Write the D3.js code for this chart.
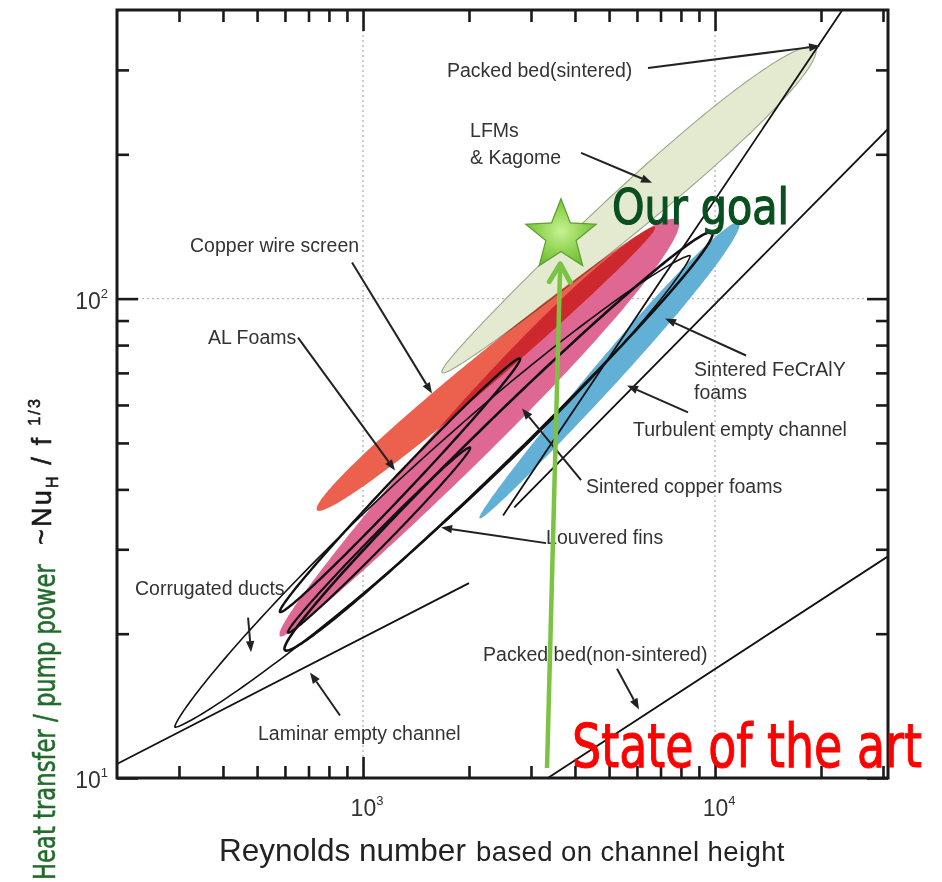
<!DOCTYPE html>
<html>
<head>
<meta charset="utf-8">
<script src="https://cdn.jsdelivr.net/npm/d3@7"></script>
<style>
  html, body { margin: 0; padding: 0; background: #fff; }
  svg { display: block; }
</style>
</head>
<body>
<svg id="chart" width="942" height="882"></svg>
<script>
// ---- axes -------------------------------------------------------------
const reDomain = [200, 31000];
const nuDomain = [10, 400];
const reMajorTicks = [1e3, 1e4];
const nuMajorTicks = [1e1, 1e2];
const reMinorTicks = [300, 400, 500, 600, 700, 800, 900, 2000, 3000, 4000, 5000, 6000, 7000, 8000, 9000, 20000, 30000];
const nuMinorTicks = [20, 30, 40, 50, 60, 70, 80, 90, 200, 300];
const reGrid = [1e3, 1e4];
const nuGrid = [1e2];

// ---- filled bands: lower-left end, upper-right end, half thickness (decades) ----
const bandNames = ["LFMs & Kagome", "Copper wire screen", "Sintered copper foams", "Sintered FeCrAlY foams"];
const bandRe1 = [1677, 740, 581, 2143];
const bandNu1 = [70.1, 36.2, 19.76, 34.8];
const bandRe2 = [19240, 6753, 7851, 11700];
const bandNu2 = [333.4, 141, 145.4, 144];
const bandSpread = [0.046, 0.0323, 0.056, 0.028];

// ---- outlined envelopes ----
const envelopeNames = ["Corrugated ducts", "Louvered fins", "AL Foams A", "AL Foams B"];
const envelopeRe1 = [292, 600, 581, 612];
const envelopeNu1 = [12.77, 18.48, 22.2, 20.1];
const envelopeRe2 = [8492, 9806, 2792, 2014];
const envelopeNu2 = [122.9, 137.3, 75, 48.9];
const envelopeSpread = [0.0646, 0.0427, 0.019, 0.0146];

// ---- straight correlations ----
const lineNames = ["Laminar empty channel", "Turbulent empty channel", "Packed bed (sintered)", "Packed bed (non-sintered)"];
const lineRe1 = [200, 2690, 2500, 3350];
const lineNu1 = [10.7, 36.7, 35.3, 10];
const lineRe2 = [2000, 31000, 23000, 31000];
const lineNu2 = [25.5, 226, 400, 29];

// ---- annotation text (anchored at baseline start) ----
const labelText = ["Packed bed(sintered)", "LFMs", "& Kagome", "Copper wire screen", "AL Foams",
  "Sintered FeCrAlY", "foams", "Turbulent empty channel", "Sintered copper foams", "Louvered fins",
  "Corrugated ducts", "Packed bed(non-sintered)", "Laminar empty channel"];
const labelRe = [1732, 2014, 2014, 322.5, 362.9, 8714, 8714, 5848, 4300, 3311, 225, 2193, 503];
const labelNu = [290, 217.6, 191, 125.3, 80.6, 68.8, 61.6, 51.6, 39.3, 30.7, 24.06, 17.5, 12.0];

// ---- leader arrows (tail -> head) ----
const arrowRe1 = [6451, 4163, 930.5, 653.6, 12250, 8381, 4163, 3311, 471.4, 860.2, 5267];
const arrowNu1 = [302.9, 201.4, 118.9, 82.9, 76.1, 57.9, 41.8, 30.9, 21.6, 13.5, 16.9];
const arrowRe2 = [19880, 6622, 1570, 1233, 7211, 5623, 2829, 1666, 480.7, 707, 6081];
const arrowNu2 = [336.5, 174.4, 63.4, 43.8, 90.9, 65.9, 59.0, 33.3, 18.3, 16.6, 13.9];

// ---- target and current state ----
const goalRe = [3650], goalNu = [135.3];
const stateRe = [3332], stateNu = [10.49];
const goalTextRe = [5098], goalTextNu = [143.3];
const stateTextRe = [3925], stateTextNu = [10.54];

// ---- styles (bias > 0 fattens the upper-left side) ----
const bandStyle = {
  "LFMs & Kagome":          { fill: "#e3ead0", stroke: "#98a68a", skew: 0.35,  bias: 0,    shape: 0.5 },
  "Copper wire screen":     { fill: "#ec614e", stroke: "none",    skew: -0.2,  bias: 0,    shape: 0.5 },
  "Sintered copper foams":  { fill: "#de6893", stroke: "none",    skew: 0.3,   bias: 0.13, shape: 0.5 },
  "Sintered FeCrAlY foams": { fill: "#63b0d6", stroke: "none",    skew: 0.3,   bias: 0,    shape: 0.5 }
};
const envelopeStyle = {
  "Corrugated ducts": { width: 1.6, skew: 0, bias: 0, shape: 0.7 },
  "Louvered fins":    { width: 2.6, skew: 0, bias: 0, shape: 0.5 },
  "AL Foams A":       { width: 2.4, skew: 0, bias: 0, shape: 0.5 },
  "AL Foams B":       { width: 2.2, skew: 0, bias: 0, shape: 0.5 }
};

const svg = d3.select("#chart");
const plot = { left: 117, right: 888, top: 10, bottom: 778 };

const x = d3.scaleLog().domain(reDomain).range([plot.left, plot.right]);
const y = d3.scaleLog().domain(nuDomain).range([plot.bottom, plot.top]);
const decadePx = y(10) - y(100);

const defs = svg.append("defs");
defs.append("clipPath").attr("id", "plotClip")
  .append("rect")
  .attr("x", plot.left).attr("y", plot.top)
  .attr("width", plot.right - plot.left).attr("height", plot.bottom - plot.top);

const grad = defs.append("radialGradient").attr("id", "starFill")
  .attr("cx", "50%").attr("cy", "48%").attr("r", "55%");
grad.append("stop").attr("offset", "0%").attr("stop-color", "#c8f294");
grad.append("stop").attr("offset", "55%").attr("stop-color", "#93d556");
grad.append("stop").attr("offset", "100%").attr("stop-color", "#6dbd33");

// dotted grid at the decades
const grid = svg.append("g").attr("stroke", "#b9b9b9").attr("stroke-width", 1.4).attr("stroke-dasharray", "2,3");
grid.selectAll("line.gx").data(reGrid).join("line")
  .attr("x1", d => x(d)).attr("x2", d => x(d)).attr("y1", plot.top).attr("y2", plot.bottom);
grid.selectAll("line.gy").data(nuGrid).join("line")
  .attr("y1", d => y(d)).attr("y2", d => y(d)).attr("x1", plot.left).attr("x2", plot.right);

// a lens / ellipse between two ends, thickness profile b*(1-u^2)^shape*(1+skew*u), sides weighted by bias
function envelopePath(re1, nu1, re2, nu2, spread, st) {
  const p1 = [x(re1), y(nu1)], p2 = [x(re2), y(nu2)];
  const dx = p2[0] - p1[0], dy = p2[1] - p1[1];
  const L = Math.hypot(dx, dy);
  const ux = dx / L, uy = dy / L, nx = -uy, ny = ux;
  const cx = (p1[0] + p2[0]) / 2, cy = (p1[1] + p2[1]) / 2;
  const b = spread * decadePx;
  const pts = [];
  const n = 240;
  for (let i = 0; i < n; i++) {
    const th = i / n * 2 * Math.PI;
    const u = -Math.cos(th);
    const side = Math.sin(th) >= 0 ? 1 : -1;
    const w = b * Math.pow(Math.max(0, 1 - u * u), st.shape) * (1 + st.skew * u) * (1 - st.bias * side);
    pts.push([cx + u * L / 2 * ux + side * w * nx, cy + u * L / 2 * uy + side * w * ny]);
  }
  return d3.line().curve(d3.curveLinearClosed)(pts);
}

const content = svg.append("g").attr("clip-path", "url(#plotClip)");

// filled bands (overlaps darken)
content.append("g").selectAll("path").data(bandNames).join("path")
  .attr("d", (d, i) => envelopePath(bandRe1[i], bandNu1[i], bandRe2[i], bandNu2[i], bandSpread[i], bandStyle[d]))
  .attr("fill", d => bandStyle[d].fill)
  .attr("stroke", d => bandStyle[d].stroke)
  .attr("stroke-width", 1.1)
  .style("mix-blend-mode", "multiply");

// outlined envelopes
content.append("g").selectAll("path").data(envelopeNames).join("path")
  .attr("d", (d, i) => envelopePath(envelopeRe1[i], envelopeNu1[i], envelopeRe2[i], envelopeNu2[i], envelopeSpread[i], envelopeStyle[d]))
  .attr("fill", "none")
  .attr("stroke", "#111")
  .attr("stroke-width", d => envelopeStyle[d].width)
  .attr("stroke-linejoin", "round");

// straight correlations
content.append("g").selectAll("line").data(lineNames).join("line")
  .attr("x1", (d, i) => x(lineRe1[i])).attr("y1", (d, i) => y(lineNu1[i]))
  .attr("x2", (d, i) => x(lineRe2[i])).attr("y2", (d, i) => y(lineNu2[i]))
  .attr("stroke", "#111").attr("stroke-width", 1.8);

// leader arrows
const arrows = svg.append("g").attr("stroke", "#222").attr("fill", "#222");
arrowRe1.forEach((_, i) => {
  const x1 = x(arrowRe1[i]), y1 = y(arrowNu1[i]), x2 = x(arrowRe2[i]), y2 = y(arrowNu2[i]);
  const a = Math.atan2(y2 - y1, x2 - x1);
  const L = 11, hw = 4.2;
  const bx = x2 - L * Math.cos(a), by = y2 - L * Math.sin(a);
  arrows.append("line").attr("x1", x1).attr("y1", y1).attr("x2", bx).attr("y2", by).attr("stroke-width", 2);
  arrows.append("path").attr("stroke", "none")
    .attr("d", `M${x2},${y2}L${bx + hw * Math.sin(a)},${by - hw * Math.cos(a)}L${bx - hw * Math.sin(a)},${by + hw * Math.cos(a)}Z`);
});

// region labels
const sans = "'Liberation Sans', Arial, sans-serif";
svg.append("g").selectAll("text").data(labelText).join("text")
  .attr("x", (d, i) => x(labelRe[i])).attr("y", (d, i) => y(labelNu[i]))
  .attr("font-family", sans)
  .attr("font-size", 19.5)
  .attr("fill", "#333")
  .text(d => d);

// frame and inward ticks on all four sides
svg.append("rect")
  .attr("x", plot.left).attr("y", plot.top)
  .attr("width", plot.right - plot.left).attr("height", plot.bottom - plot.top)
  .attr("fill", "none").attr("stroke", "#1a1a1a").attr("stroke-width", 3);

function tickGroup(axis, tx, ty) {
  const g = svg.append("g").attr("transform", `translate(${tx},${ty})`).call(axis);
  g.select(".domain").remove();
  g.selectAll("line").attr("stroke", "#1a1a1a").attr("stroke-width", 2.6);
  g.selectAll("text").remove();
}
[[reMinorTicks, 12], [reMajorTicks, 21]].forEach(([vals, len]) => {
  tickGroup(d3.axisBottom(x).tickValues(vals).tickSize(-len), 0, plot.bottom);
  tickGroup(d3.axisTop(x).tickValues(vals).tickSize(-len), 0, plot.top);
});
[[nuMinorTicks, 12], [nuMajorTicks, 21]].forEach(([vals, len]) => {
  tickGroup(d3.axisLeft(y).tickValues(vals).tickSize(-len), plot.left, 0);
  tickGroup(d3.axisRight(y).tickValues(vals).tickSize(-len), plot.right, 0);
});

// power-of-ten tick labels
const xl = svg.append("g").selectAll("text").data(reMajorTicks).join("text")
  .attr("x", d => x(d) + 4).attr("y", plot.bottom + 38)
  .attr("text-anchor", "middle").attr("font-family", sans).attr("fill", "#333");
xl.append("tspan").attr("font-size", 23).text("10");
xl.append("tspan").attr("font-size", 13).attr("dy", -11).text(d => Math.round(Math.log10(d)));

const yl = svg.append("g").selectAll("text").data(nuMajorTicks).join("text")
  .attr("x", plot.left - 9).attr("y", d => y(d) + 10)
  .attr("text-anchor", "end").attr("font-family", sans).attr("fill", "#333");
yl.append("tspan").attr("font-size", 23).text("10");
yl.append("tspan").attr("font-size", 13).attr("dy", -11).text(d => Math.round(Math.log10(d)));

// axis titles
svg.append("text").attr("x", 219).attr("y", 861)
  .attr("font-family", sans).attr("font-size", 31.5).attr("fill", "#222")
  .text("Reynolds number");
svg.append("text").attr("x", 476).attr("y", 861)
  .attr("font-family", sans).attr("font-size", 27.5).attr("fill", "#222")
  .attr("letter-spacing", 0.4)
  .text("based on channel height");

// condensed text squeezed to a given run length
const narrow = "'Liberation Sans Narrow', 'Arial Narrow', 'DejaVu Sans Condensed', 'Liberation Sans', sans-serif";
function fittedText(parent, txt, size, run, place, color, weightStroke) {
  const t = parent.append("text")
    .attr("font-family", narrow).attr("font-size", size).attr("fill", color)
    .attr("stroke", color).attr("stroke-width", weightStroke)
    .text(txt);
  const k = run / t.node().getComputedTextLength();
  t.attr("transform", `${place} scale(${k},1)`);
  return t;
}

fittedText(svg, "Heat transfer / pump power", 30, 316, "translate(55,880) rotate(-90)", "#226b2b", 0.5);

const formula = svg.append("text")
  .attr("transform", "translate(51,545) rotate(-90)")
  .attr("font-family", sans).attr("fill", "#1a1a1a")
  .attr("stroke", "#1a1a1a").attr("stroke-width", 0.6)
  .attr("letter-spacing", 2.2);
formula.append("tspan").attr("font-size", 27).text("~Nu");
formula.append("tspan").attr("font-size", 16).attr("dy", 7).text("H");
formula.append("tspan").attr("font-size", 27).attr("dy", -7).text(" / f ");
formula.append("tspan").attr("font-size", 16).attr("dy", -11).text("1/3");

// current state -> goal arrow with star
const sx = x(stateRe[0]), sy = y(stateNu[0]);
const gx = x(goalRe[0]), gy = y(goalNu[0]);
const starR = 37;
const ang = Math.atan2(gy - sy, gx - sx);
const tipGap = starR * 0.76;
const tipX = gx - tipGap * Math.cos(ang), tipY = gy - tipGap * Math.sin(ang);
const over = svg.append("g");
over.append("line").attr("x1", sx).attr("y1", sy).attr("x2", tipX).attr("y2", tipY)
  .attr("stroke", "#7cc243").attr("stroke-width", 4.5);
const arm = 21, spreadA = Math.PI / 6;
over.append("path")
  .attr("d", `M${tipX - arm * Math.cos(ang - spreadA)},${tipY - arm * Math.sin(ang - spreadA)}L${tipX},${tipY}L${tipX - arm * Math.cos(ang + spreadA)},${tipY - arm * Math.sin(ang + spreadA)}`)
  .attr("fill", "none").attr("stroke", "#7cc243").attr("stroke-width", 5).attr("stroke-linecap", "round").attr("stroke-linejoin", "round");

const starPts = d3.range(10).map(k => {
  const r = k % 2 === 0 ? starR : starR * 0.43;
  const a = -Math.PI / 2 + k * Math.PI / 5;
  return [gx + r * Math.cos(a), gy + r * Math.sin(a)];
});
over.append("path").attr("d", d3.line().curve(d3.curveLinearClosed)(starPts))
  .attr("fill", "url(#starFill)").attr("stroke", "#5c9f2c").attr("stroke-width", 1.2);

fittedText(svg, "Our goal", 50, 177, `translate(${x(goalTextRe[0])},${y(goalTextNu[0])})`, "#0a4f1f", 1.2);
fittedText(svg, "State of the art", 60, 350, `translate(${x(stateTextRe[0])},${y(stateTextNu[0])})`, "#ff0000", 1.0);
</script>
</body>
</html>
